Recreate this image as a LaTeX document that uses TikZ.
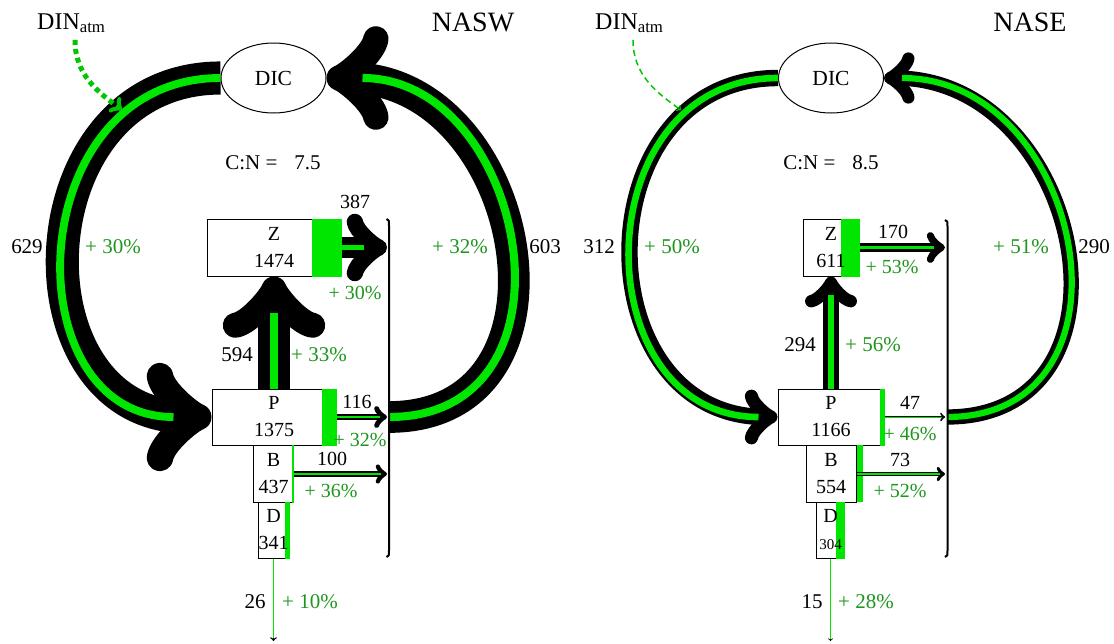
\documentclass[tikz,border=0pt]{standalone}
\usepackage{fontspec}
\setmainfont{Liberation Serif}
\usetikzlibrary{arrows.meta,shapes.geometric}
\definecolor{gline}{RGB}{0,230,0}
\definecolor{gtext}{RGB}{30,150,30}
\definecolor{gdin}{RGB}{0,200,0}
\newdimen\oldtoA
\newdimen\oldtoT
\newdimen\oldtoL
\newdimen\oldtoB
\pgfdeclarearrow{
  name = OldTo,
  parameters = {\the\pgfarrowlinewidth},
  setup code = {
    \oldtoA=.375\pgfarrowlinewidth
    \advance\oldtoA by .28pt
    \oldtoT=.75\oldtoA
    \advance\oldtoT by .5\pgfarrowlinewidth
    \pgfarrowssettipend{\oldtoT}
    \oldtoL=-.3\oldtoA
    \pgfarrowssetlineend{\oldtoL}
    \oldtoB=-3\oldtoA
    \advance\oldtoB by -.5\pgfarrowlinewidth
    \pgfarrowssetbackend{\oldtoB}
    \pgfarrowssavethe\oldtoA
    \pgfarrowssavethe\pgfarrowlinewidth
  },
  drawing code = {
    \pgfsetdash{}{+0pt}
    \pgfsetroundcap
    \pgfsetroundjoin
    \pgfsetlinewidth{\pgfarrowlinewidth}
    \pgfpathmoveto{\pgfqpoint{-3\oldtoA}{4\oldtoA}}
    \pgfpathcurveto{\pgfqpoint{-2.75\oldtoA}{2.5\oldtoA}}{\pgfqpoint{0pt}{.25\oldtoA}}{\pgfqpoint{.75\oldtoA}{0pt}}
    \pgfpathcurveto{\pgfqpoint{0pt}{-.25\oldtoA}}{\pgfqpoint{-2.75\oldtoA}{-2.5\oldtoA}}{\pgfqpoint{-3\oldtoA}{-4\oldtoA}}
    \pgfusepathqstroke
  },
  defaults = {line width = +0pt .8}
}
\begin{document}
\begin{tikzpicture}[x=1pt,y=-1pt,
  ftip/.style={-{OldTo}},
  blk/.style={draw=black, line width=#1, ftip},
  grn/.style={draw=gline, line width=#1},
  flowbox/.style={draw=black, line width=1pt, rectangle, inner sep=0pt},
  boxtxt/.style={font=\fontsize{20}{27}\selectfont, align=center, inner sep=0pt},
  lab/.style={font=\fontsize{20}{24}\selectfont, inner sep=0pt},
  glab/.style={lab, text=gtext},
  sidelab/.style={font=\fontsize{21}{25}\selectfont, inner sep=0pt},
  gsidelab/.style={sidelab, text=gtext},
  titlelab/.style={font=\fontsize{28}{32}\selectfont, inner sep=0pt},
  dinlab/.style={font=\fontsize{24}{28}\selectfont, inner sep=0pt, anchor=base west},
  dicnode/.style={ellipse, draw, line width=1pt, minimum width=105pt, minimum height=70pt, inner sep=0pt, font=\fontsize{21.5}{25}\selectfont},
  barline/.style={draw, line width=2pt},
  dinA/.style={draw=gdin, line width=5pt, dash pattern=on 5pt off 4pt, ftip},
  dinB/.style={draw=gdin, line width=1.5pt, dash pattern=on 6pt off 4pt, ftip},
]
\fill[white] (0,0) rectangle (1114,643);
\useasboundingbox (0,0) rectangle (1114,643);

% ================= LEFT PANEL (NASW) =================
\node[dicnode] (DICa) at (273.5,78) {DIC};
\node[flowbox, minimum width=134pt, minimum height=57pt] (Za) at (274,247.5) {};
\node[flowbox, minimum width=124pt, minimum height=56pt] (Pa) at (274,417) {};
\node[flowbox, minimum width=39.7pt, minimum height=57pt] (Ba) at (273.5,473.5) {};
\node[flowbox, minimum width=31pt, minimum height=56pt] (Da) at (273.5,530) {};

\fill[gline] (Za.north east) ++(-30,0) rectangle (Za.south east);
\fill[gline] (Pa.north east) ++(-15,0) rectangle (Pa.south east);
\fill[gline] (Ba.north east) ++(-1.5,0) rectangle (Ba.south east);
\fill[gline] (Da.north east) ++(-5,0) rectangle (Da.south east);

\node[boxtxt] (Zat) at (Za) {Z\\1474};
\node[boxtxt] (Pat) at (Pa) {P\\1375};
\node[boxtxt] (Bat) at (Ba) {B\\437};
\node[boxtxt] (Dat) at (Da) {D\\341};

\coordinate (barAa) at (389,417);
\coordinate (barZa) at (387,247.5);
\coordinate (barPa) at (387,417);
\coordinate (barBa) at (387,474);
\coordinate (endDa) at (273.5,641);

\draw[blk=33.1pt] (DICa.west) to[out=180,in=180,looseness=1.51] (Pa.west);
\draw[grn=7.9pt, shorten >=38pt] (DICa.west) to[out=180,in=180,looseness=1.51] (Pa.west);
\draw[blk=31.7pt] (barAa) to[out=0,in=0,looseness=1.49] (DICa.east);
\draw[grn=8.1pt, shorten >=36pt] (barAa) to[out=0,in=0,looseness=1.49] (DICa.east);
\draw[blk=31.3pt] (Pa.north) -- (Za.south);
\draw[grn=8.3pt, shorten >=36pt] (Pa.north) -- (Za.south);
\draw[blk=20.4pt] (Za.east) -- (barZa);
\draw[grn=4.9pt, shorten >=23pt] (Za.east) -- (barZa);
\draw[blk=6.1pt] (Pa.east) -- (barPa);
\draw[grn=1.6pt, shorten >=7pt] (Pa.east) -- (barPa);
\draw[blk=5.3pt] (Ba.east |- barBa) -- (barBa);
\draw[grn=1.5pt, shorten >=6pt] (Ba.east |- barBa) -- (barBa);
\draw[blk=1.4pt] (Da.south) -- (endDa);
\draw[grn=1.4pt, shorten >=3pt] (Da.south) -- (endDa);

\draw[barline] (386.5,219) .. controls (389,220) .. (389,226) -- (389,550) .. controls (389,556) .. (386.5,557);

\node[dinlab] (DINa) at (37,29) {DIN\textsubscript{atm}};
\coordinate (dinsa) at (75,40);
\coordinate (dinea) at (122,110);
\draw[dinA] (dinsa) .. controls (75,75) and (98,92) .. (dinea);

\node[titlelab] (tNASW) at (473,22) {NASW};
\node[sidelab] (CNa) at (273,163) {C:N =\hspace{17pt}7.5};
\node[sidelab] (v629) at (27,247) {629};
\node[gsidelab] (p629) at (113,247) {+ 30\%};
\node[gsidelab] (p603) at (460,247) {+ 32\%};
\node[sidelab] (v603) at (545,247) {603};
\node[lab] (v387) at (355,202) {387};
\node[glab] (p387) at (355,293) {+ 30\%};
\node[sidelab] (v594) at (237,355) {594};
\node[gsidelab] (p594) at (319,355) {+ 33\%};
\node[lab] (v116) at (357,402) {116};
\node[glab] (p116) at (360,440) {+ 32\%};
\node[lab] (v100) at (332,459) {100};
\node[glab] (p100) at (331,491) {+ 36\%};
\node[sidelab] (v26) at (255,602) {26};
\node[gsidelab] (p26) at (310,602) {+ 10\%};

% ================= RIGHT PANEL (NASE) =================
\node[dicnode] (DICb) at (831,78) {DIC};
\node[flowbox, minimum width=56pt, minimum height=57pt] (Zb) at (831,247.5) {};
\node[flowbox, minimum width=106pt, minimum height=56pt] (Pb) at (831,417) {};
\node[flowbox, minimum width=50pt, minimum height=57pt] (Bb) at (831,473.5) {};
\node[flowbox, minimum width=27.5pt, minimum height=56pt] (Db) at (830.5,530) {};

\fill[gline] (Zb.north east) ++(-19,0) rectangle (Zb.south east);
\fill[gline] (Pb.north east) ++(-5,0) rectangle (Pb.south east);
\fill[gline] (Bb.north east) rectangle ++(6,57);
\fill[gline] (Db.north east) ++(-9,0) rectangle (Db.south east);

\node[boxtxt] (Zbt) at (Zb) {Z\\611};
\node[boxtxt] (Pbt) at (Pb) {P\\1166};
\node[boxtxt] (Bbt) at (Bb) {B\\554};
\node[boxtxt] (Dbt) at (Db) {D\\{\fontsize{15}{18}\selectfont 304}};

\coordinate (barAb) at (947,417);
\coordinate (barZb) at (945,247.5);
\coordinate (barPb) at (945,417);
\coordinate (barBb) at (945,474);
\coordinate (endDb) at (830.5,641);

\draw[blk=16.4pt] (DICb.west) to[out=180,in=180,looseness=1.48] (Pb.west);
\draw[grn=6.6pt, shorten >=19pt] (DICb.west) to[out=180,in=180,looseness=1.48] (Pb.west);
\draw[blk=15.3pt] (barAb) to[out=0,in=0,looseness=1.495] (DICb.east);
\draw[grn=6.2pt, shorten >=18pt] (barAb) to[out=0,in=0,looseness=1.495] (DICb.east);
\draw[blk=15.5pt] (Pb.north) -- (Zb.south);
\draw[grn=6.9pt, shorten >=18pt] (Pb.north) -- (Zb.south);
\draw[blk=8.9pt] (Zb.east) -- (barZb);
\draw[grn=3.8pt, shorten >=11pt] (Zb.east) -- (barZb);
\draw[blk=2pt] (Pb.east) -- (barPb);
\draw[grn=0.7pt, shorten >=3pt] (Pb.east) -- (barPb);
\draw[blk=3.8pt] (Bb.east |- barBb) -- (barBb);
\draw[grn=1.6pt, shorten >=5pt] (Bb.east |- barBb) -- (barBb);
\draw[blk=0.8pt] (Db.south) -- (endDb);
\draw[grn=1.3pt, shorten >=2.5pt] (Db.south) -- (endDb);

\draw[barline] (945,220) .. controls (947.5,221) .. (947.5,227) -- (947.5,550) .. controls (947.5,556) .. (945,557);

\node[dinlab] (DINb) at (595,29) {DIN\textsubscript{atm}};
\coordinate (dinsb) at (633,40);
\coordinate (dineb) at (681,110);
\draw[dinB] (dinsb) .. controls (633,75) and (657,93) .. (dineb);

\node[titlelab] (tNASE) at (1030,22) {NASE};
\node[sidelab] (CNb) at (831,163) {C:N =\hspace{17pt}8.5};
\node[sidelab] (v312) at (599,247) {312};
\node[gsidelab] (p312) at (672,247) {+ 50\%};
\node[gsidelab] (p290) at (1021,247) {+ 51\%};
\node[sidelab] (v290) at (1094,247) {290};
\node[lab] (v170) at (893,232) {170};
\node[glab] (p170) at (892,267) {+ 53\%};
\node[sidelab] (v294) at (800,345) {294};
\node[gsidelab] (p294) at (873,345) {+ 56\%};
\node[lab] (v47) at (910,403) {47};
\node[glab] (p47) at (910,434) {+ 46\%};
\node[lab] (v73) at (900,460) {73};
\node[glab] (p73) at (900,491) {+ 52\%};
\node[sidelab] (v15) at (812,602) {15};
\node[gsidelab] (p15) at (866,602) {+ 28\%};
\end{tikzpicture}
\end{document}
